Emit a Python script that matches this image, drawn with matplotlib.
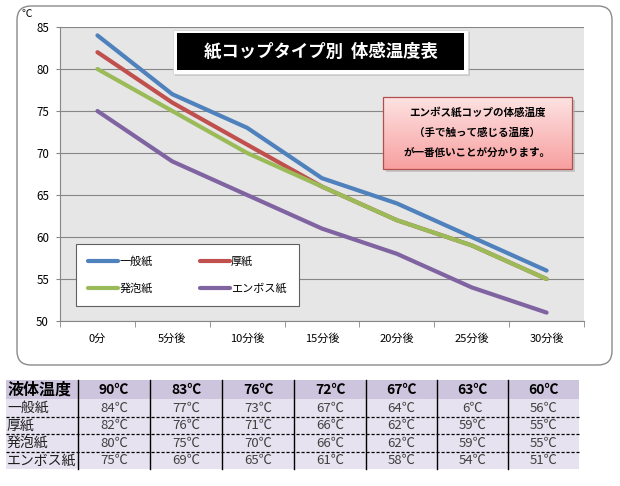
import numpy as np
import matplotlib
matplotlib.use("Agg")
import matplotlib.pyplot as plt
from matplotlib.patches import FancyBboxPatch, Rectangle

plt.rcParams['font.family'] = ['Noto Sans CJK JP', 'DejaVu Sans']

# data
times = ['0分', '5分後', '10分後', '15分後', '20分後', '25分後', '30分後']
liquid = [90, 83, 76, 72, 67, 63, 60]
names = ['一般紙', '厚紙', '発泡紙', 'エンボス紙']
ippan = [84, 77, 73, 67, 64, 60, 56]
atsu = [82, 76, 71, 66, 62, 59, 55]
happo = [80, 75, 70, 66, 62, 59, 55]
emboss = [75, 69, 65, 61, 58, 54, 51]
series = [ippan, atsu, happo, emboss]
colors = ['#4f81bd', '#c0504d', '#9bbb59', '#8064a2']
# the printed table has a typo in one cell
table_fix = {(0, 5): '6℃'}

W, H = 620, 486
fig = plt.figure(figsize=(W / 100, H / 100), dpi=100)

# background layer in pixel coordinates (top-left origin)
bg = fig.add_axes([0, 0, 1, 1], zorder=0)
bg.set_xlim(0, W)
bg.set_ylim(H, 0)
bg.axis('off')

bg.add_patch(FancyBboxPatch((17, 6), 595, 359, boxstyle='round,pad=0,rounding_size=14',
                            fc='white', ec='#8a8a8a', lw=1.0))
bg.text(21, 14, '℃', fontsize=7.5, ha='left', va='center')

# chart
ax = fig.add_axes([60 / W, 1 - 321 / H, 524 / W, 294 / H], zorder=1)
ax.set_facecolor('#e6e6e6')
x = np.arange(len(times))
lines = []
for vals, name, c in zip(series, names, colors):
    ln, = ax.plot(x, vals, color=c, lw=3.0, label=name, solid_capstyle='round',
                  solid_joinstyle='round')
    lines.append(ln)
ax.set_xlim(-0.5, len(times) - 0.5)
ax.set_ylim(50, 85)
ax.set_yticks(range(50, 86, 5))
ax.yaxis.grid(True, color='#868686', lw=0.8)
ax.set_axisbelow(True)
ax.set_xticks(x)
ax.set_xticklabels(times)
ax.set_xticks(np.arange(-0.5, len(times)), minor=True)
ax.tick_params(axis='x', which='major', length=0, pad=9, labelsize=8)
ax.tick_params(axis='x', which='minor', length=4, color='#868686')
ax.tick_params(axis='y', length=3, color='#868686', pad=5, labelsize=8.3)
for s in ['top', 'right']:
    ax.spines[s].set_visible(False)
ax.spines['left'].set_color('#868686')
ax.spines['bottom'].set_color('#868686')

# legend fills column-wise, so order handles to read row-wise
order = [0, 2, 1, 3]
leg = ax.legend([lines[i] for i in order], [names[i] for i in order],
                ncol=2, loc='lower left', mode='expand',
                bbox_to_anchor=(16 / 524, 15 / 294, 223 / 524, 62 / 294),
                fontsize=8, handlelength=2.7, handletextpad=0.1,
                labelspacing=1.45, borderpad=1.1, borderaxespad=0,
                fancybox=False, framealpha=1, edgecolor='#606060')
leg.get_frame().set_linewidth(0.8)

# overlay: title box and note
ov = fig.add_axes([0, 0, 1, 1], zorder=2)
ov.set_xlim(0, W)
ov.set_ylim(H, 0)
ov.axis('off')
ov.patch.set_alpha(0)

ov.add_patch(Rectangle((175, 32), 295, 44, fc='#b0b0b0', ec='none', alpha=0.5))
ov.add_patch(Rectangle((173, 30), 295, 44, fc='white', ec='#d0d0d0', lw=0.5))
ov.add_patch(Rectangle((177, 33), 287, 37, fc='black', ec='none'))
ov.text(321, 52, '紙コップタイプ別  体感温度表', color='white', fontsize=12.5,
        fontweight='bold', ha='center', va='center')

ov.add_patch(Rectangle((386, 100), 189, 72, fc='#b0b0b0', ec='none', alpha=0.6))
grad = np.linspace(0, 1, 64)[:, None]
top = np.array([253, 226, 226]) / 255
bot = np.array([248, 160, 160]) / 255
img = top[None, None, :] * (1 - grad[:, :, None]) + bot[None, None, :] * grad[:, :, None]
ov.imshow(img, extent=(383, 572, 169, 97), aspect='auto', zorder=3)
ov.add_patch(Rectangle((383, 97), 189, 72, fc='none', ec='#b2504d', lw=0.9, zorder=4))
note = ['エンボス紙コップの体感温度', '（手で触って感じる温度）', 'が一番低いことが分かります。']
for i, line in enumerate(note):
    ov.text(477, 112 + i * 20.5, line, fontsize=7.6, fontweight='bold',
            ha='center', va='center', zorder=5)
ov.set_xlim(0, W)
ov.set_ylim(H, 0)

# table below chart
col_edges = [6, 78, 150, 222, 294, 366, 437, 508, 579]
row_edges = [380, 399, 417, 434, 452, 469]
bg.add_patch(Rectangle((6, 380), 573, 19, fc='#cdc5dd', ec='none'))
bg.add_patch(Rectangle((6, 399), 573, 70, fc='#e6e2ef', ec='none'))
for cx in col_edges[1:-1]:
    bg.plot([cx, cx], [380, 469], color='black', lw=1.0)
for ry in row_edges[2:-1]:
    bg.plot([6, 579], [ry, ry], color='black', lw=0.9, ls=(0, (2.5, 1.5)))

centers = [(a + b) / 2 for a, b in zip(col_edges[:-1], col_edges[1:])]
bg.text(8, 390, '液体温度', fontsize=11.5, fontweight='bold', ha='left', va='center')
for cx, t in zip(centers[1:], liquid):
    bg.text(cx, 390, f'{t}℃', fontsize=10, fontweight='bold', ha='center', va='center')
for r, (name, vals) in enumerate(zip(names, series)):
    ry = (row_edges[r + 1] + row_edges[r + 2]) / 2
    bg.text(7, ry, name, fontsize=10, ha='left', va='center', color='#202020')
    for c, (cx, v) in enumerate(zip(centers[1:], vals)):
        s = table_fix.get((r, c), f'{v}℃')
        bg.text(cx, ry, s, fontsize=9.5, ha='center', va='center', color='#404040')

fig.savefig('out.png', dpi=100)
